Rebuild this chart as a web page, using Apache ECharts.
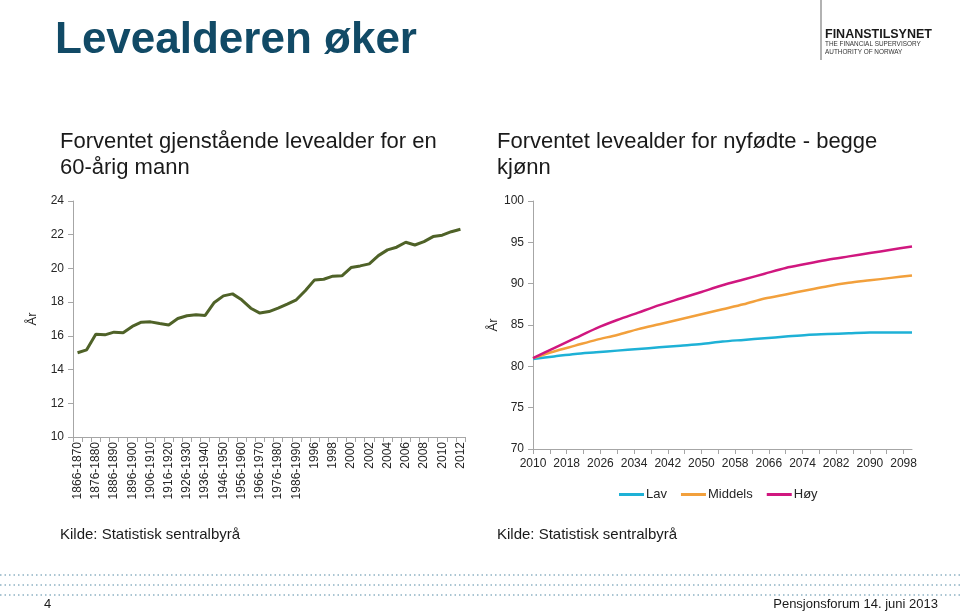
<!DOCTYPE html>
<html>
<head>
<meta charset="utf-8">
<script src="https://cdn.jsdelivr.net/npm/echarts@6/dist/echarts.min.js"></script>
<style>
html,body{margin:0;padding:0;background:#fff;}
#c{width:960px;height:611px;}
</style>
</head>
<body>
<div id="c"></div>
<script>
// Left chart: remaining life expectancy for a 60-year-old man
var leftCategories = [
  '1866-1870','1871-1875','1876-1880','1881-1885','1886-1890','1891-1895','1896-1900','1901-1905',
  '1906-1910','1911-1915','1916-1920','1921-1925','1926-1930','1931-1935','1936-1940','1941-1945',
  '1946-1950','1951-1955','1956-1960','1961-1965','1966-1970','1971-1975','1976-1980','1981-1985',
  '1986-1990','1991-1995','1996','1997','1998','1999','2000','2001','2002','2003','2004','2005',
  '2006','2007','2008','2009','2010','2011','2012'
];
var leftValues = [
  15.0, 15.17, 16.10, 16.06, 16.22, 16.18, 16.56, 16.81, 16.83, 16.73, 16.65, 17.03, 17.19, 17.25,
  17.21, 17.98, 18.37, 18.49, 18.14, 17.64, 17.35, 17.44, 17.64, 17.88, 18.14, 18.69, 19.32, 19.36,
  19.54, 19.56, 20.05, 20.15, 20.27, 20.76, 21.10, 21.26, 21.55, 21.39, 21.59, 21.89, 21.97, 22.18, 22.32
];

// Right chart: life expectancy at birth, both sexes (projections)
var rightYears = [];
for (var y = 2010; y <= 2100; y++) rightYears.push(String(y));
var sampleYears = ['2010','2015','2020','2025','2030','2035','2040','2045','2050','2055','2060','2065','2070','2075','2080','2085','2090','2095','2100'];
var lavValues     = [80.9, 81.2, 81.5, 81.7, 81.9, 82.1, 82.3, 82.5, 82.7, 83.0, 83.2, 83.4, 83.6, 83.8, 83.9, 84.0, 84.1, 84.1, 84.1];
var middelsValues = [81.0, 81.8, 82.5, 83.2, 83.8, 84.5, 85.1, 85.7, 86.3, 86.9, 87.5, 88.2, 88.7, 89.2, 89.7, 90.1, 90.4, 90.7, 91.0];
var hoyValues     = [81.0, 82.2, 83.4, 84.6, 85.6, 86.5, 87.4, 88.2, 89.0, 89.8, 90.5, 91.2, 91.9, 92.4, 92.9, 93.3, 93.7, 94.1, 94.5];
var seriesNames = ['Lav', 'Middels', 'Høy'];

function pairs(vals) {
  return sampleYears.map(function (yr, i) { return [yr, vals[i]]; });
}

var FONT = '"Liberation Sans", Arial, sans-serif';
var axisGray = '#a6a6a6';
var labelColor = '#262626';

var chart = echarts.init(document.getElementById('c'), null, {renderer: 'canvas'});

var dotted = [];
[575, 585, 595].forEach(function (yy) {
  dotted.push({
    type: 'line', shape: {x1: 0, y1: yy, x2: 960, y2: yy},
    style: {stroke: '#8fb2c4', lineWidth: 1.5, lineDash: [1.5, 3]}
  });
});

chart.setOption({
  animation: false,
  textStyle: {fontFamily: FONT},
  grid: [
    {left: 73, right: 495, top: 201, bottom: 174},
    {left: 533, right: 48, top: 201, bottom: 162}
  ],
  xAxis: [
    {
      type: 'category', gridIndex: 0, data: leftCategories, boundaryGap: true,
      axisLine: {lineStyle: {color: axisGray}},
      axisTick: {show: true, interval: 0, length: 5, lineStyle: {color: axisGray}},
      axisLabel: {interval: 1, rotate: 90, margin: 5, color: labelColor, fontSize: 12, fontFamily: FONT}
    },
    {
      type: 'category', gridIndex: 1, data: rightYears, boundaryGap: false,
      axisLine: {lineStyle: {color: axisGray}},
      axisTick: {show: true, interval: 3, length: 5, lineStyle: {color: axisGray}},
      axisLabel: {interval: 7, margin: 9, color: labelColor, fontSize: 12, fontFamily: FONT}
    }
  ],
  yAxis: [
    {
      type: 'value', gridIndex: 0, min: 10, max: 24, interval: 2,
      name: 'År', nameLocation: 'middle', nameGap: 34, nameRotate: 90,
      nameTextStyle: {color: labelColor, fontSize: 13, fontFamily: FONT},
      axisLine: {show: true, lineStyle: {color: axisGray}},
      axisTick: {show: true, length: 5, lineStyle: {color: axisGray}},
      splitLine: {show: false},
      axisLabel: {color: labelColor, fontSize: 12, margin: 9, fontFamily: FONT}
    },
    {
      type: 'value', gridIndex: 1, min: 70, max: 100, interval: 5,
      name: 'År', nameLocation: 'middle', nameGap: 32, nameRotate: 90,
      nameTextStyle: {color: labelColor, fontSize: 13, fontFamily: FONT},
      axisLine: {show: true, lineStyle: {color: axisGray}},
      axisTick: {show: true, length: 5, lineStyle: {color: axisGray}},
      splitLine: {show: false},
      axisLabel: {color: labelColor, fontSize: 12, margin: 9, fontFamily: FONT}
    }
  ],
  legend: {
    data: seriesNames, left: 614, top: 483, itemWidth: 25, itemHeight: 3, itemGap: 14,
    icon: 'rect',
    textStyle: {color: labelColor, fontSize: 13, fontFamily: FONT, padding: [0, 0, 0, -3]}
  },
  series: [
    {
      type: 'line', xAxisIndex: 0, yAxisIndex: 0, data: leftValues, showSymbol: false,
      lineStyle: {color: '#4f6228', width: 3}, itemStyle: {color: '#4f6228'}
    },
    {
      name: 'Lav', type: 'line', xAxisIndex: 1, yAxisIndex: 1, data: pairs(lavValues),
      showSymbol: false, smooth: 0.3, lineStyle: {color: '#1eb1d6', width: 2.5}, itemStyle: {color: '#1eb1d6'}
    },
    {
      name: 'Middels', type: 'line', xAxisIndex: 1, yAxisIndex: 1, data: pairs(middelsValues),
      showSymbol: false, smooth: 0.3, lineStyle: {color: '#f2a03c', width: 2.5}, itemStyle: {color: '#f2a03c'}
    },
    {
      name: 'Høy', type: 'line', xAxisIndex: 1, yAxisIndex: 1, data: pairs(hoyValues),
      showSymbol: false, smooth: 0.3, lineStyle: {color: '#d0177f', width: 2.5}, itemStyle: {color: '#d0177f'}
    }
  ],
  graphic: [
    {type: 'text', left: 55, top: 19, style: {text: 'Levealderen øker', font: 'bold 44px ' + FONT, fill: '#114a66'}},
    {type: 'line', shape: {x1: 821, y1: 0, x2: 821, y2: 60}, style: {stroke: '#7f7f7f', lineWidth: 1.2}},
    {type: 'text', left: 825, top: 28, style: {text: 'FINANSTILSYNET', font: 'bold 12.5px ' + FONT, fill: '#1a1a1a'}},
    {type: 'text', left: 825, top: 41.5, style: {text: 'THE FINANCIAL SUPERVISORY', font: '6.4px ' + FONT, fill: '#333'}},
    {type: 'text', left: 825, top: 49, style: {text: 'AUTHORITY OF NORWAY', font: '6.4px ' + FONT, fill: '#333'}},
    {type: 'text', left: 60, top: 129, style: {text: 'Forventet gjenstående levealder for en\n60-årig mann', font: '22px ' + FONT, fill: '#1a1a1a', lineHeight: 26}},
    {type: 'text', left: 497, top: 129, style: {text: 'Forventet levealder for nyfødte - begge\nkjønn', font: '22px ' + FONT, fill: '#1a1a1a', lineHeight: 26}},
    {type: 'text', left: 60, top: 527, style: {text: 'Kilde: Statistisk sentralbyrå', font: '15px ' + FONT, fill: '#1a1a1a'}},
    {type: 'text', left: 497, top: 527, style: {text: 'Kilde: Statistisk sentralbyrå', font: '15px ' + FONT, fill: '#1a1a1a'}},
    {type: 'text', left: 44, top: 598, style: {text: '4', font: '13px ' + FONT, fill: '#1a1a1a'}},
    {type: 'text', right: 22, top: 598, style: {text: 'Pensjonsforum 14. juni 2013', font: '13px ' + FONT, fill: '#1a1a1a'}}
  ].concat(dotted)
});
</script>
</body>
</html>
